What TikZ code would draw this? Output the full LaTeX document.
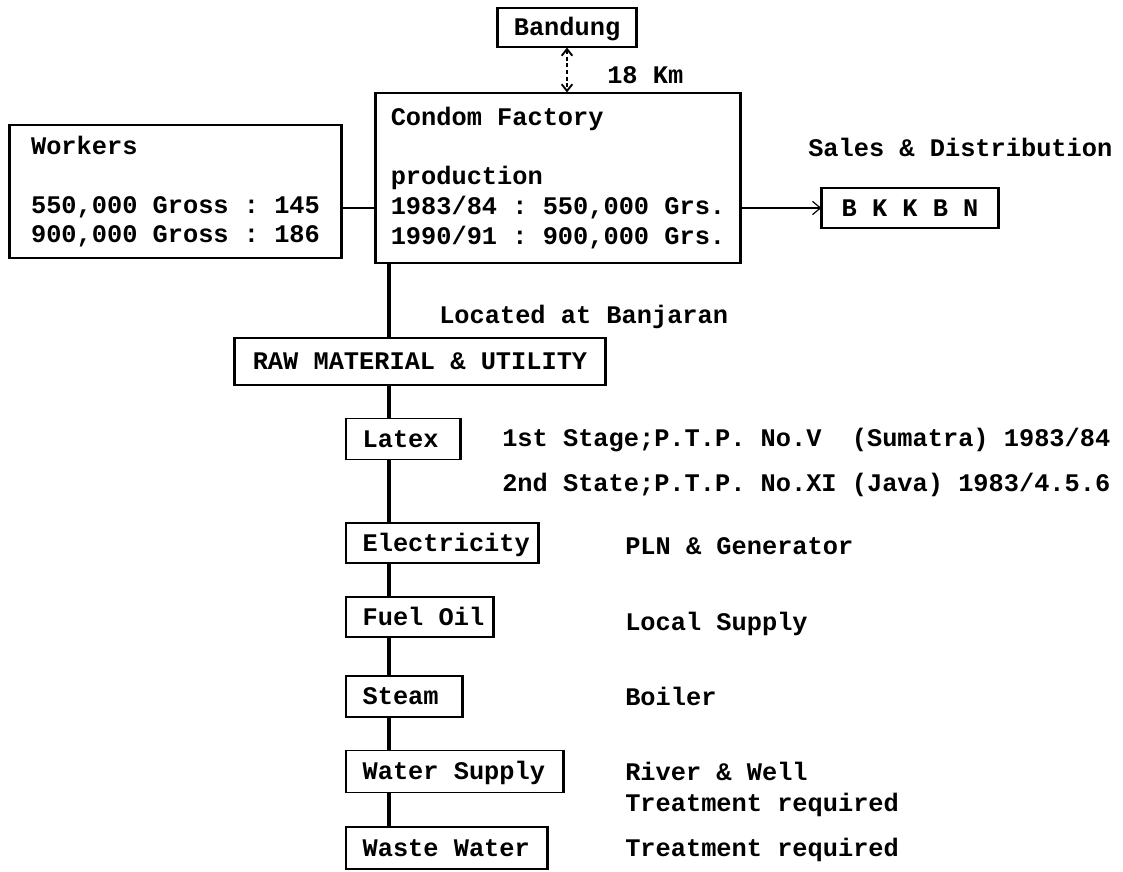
\documentclass[tikz,border=0pt]{standalone}
\usepackage{fontspec}
\setmonofont{Liberation Mono}
\usetikzlibrary{arrows.meta,calc}
\newcommand{\lftbox}[2]{\makebox[#1][l]{#2}}
\begin{document}
\begin{tikzpicture}[x=0.75pt,y=-0.75pt,
  every node/.style={font=\ttfamily\bfseries\fontsize{19}{22.2}\selectfont},
  ubox/.style={draw, line width=0.9pt, inner xsep=12pt, inner ysep=2pt, text height=12.6pt, text depth=0pt},
  mbox/.style={draw, line width=0.9pt, align=left, inner sep=0pt},
  lbl/.style={anchor=west, inner sep=0pt, text height=12.6pt, text depth=0pt},
  trunk/.style={line width=2.3pt},
  thinline/.style={line width=0.9pt},
  boxside/.style={line width=2.2pt},
]
\fill[white] (0,0) rectangle (1123,871);
\useasboundingbox (0,0) rectangle (1123,871);

% boxes
\node[ubox, minimum width=102pt, minimum height=29.25pt] (bandung) at (567,27.5) {Bandung};
\node[mbox, minimum width=273pt, minimum height=127.5pt] (factory) at (558,178)
  {Condom Factory\\[22pt]production\\1983/84 : 550,000 Grs.\\1990/91 : 900,000 Grs.};
\node[mbox, minimum width=248.25pt, minimum height=99.75pt] (workers) at (175.5,191.5)
  {Workers\\[22pt]550,000 Gross : 145\\900,000 Gross : 186};
\node[ubox, minimum width=132pt, minimum height=30pt] (bkkbn) at (910,208) {B K K B N};
\node[ubox, minimum width=277.5pt, minimum height=35.25pt] (raw) at (420,361.5) {RAW MATERIAL \& UTILITY};
\node[ubox, anchor=west, minimum height=31pt] (latex) at (346,439) {\lftbox{60.75pt}{Latex}};
\node[ubox, anchor=west, minimum height=30pt] (elec) at (346,543) {\lftbox{119.25pt}{Electricity}};
\node[ubox, anchor=west, minimum height=30pt] (fuel) at (346,617) {\lftbox{85.5pt}{Fuel Oil}};
\node[ubox, anchor=west, minimum height=30.75pt] (steam) at (346,696.5) {\lftbox{62.25pt}{Steam}};
\node[ubox, anchor=west, minimum height=32pt] (water) at (346,771.5) {\lftbox{138pt}{Water Supply}};
\node[ubox, anchor=west, minimum height=31.5pt] (waste) at (346,848) {\lftbox{126pt}{Waste Water}};

% heavier vertical sides of the boxes
\foreach \n in {bandung,factory,workers,bkkbn,raw,latex,elec,fuel,steam,water,waste}
  \draw[boxside] (\n.north west) -- (\n.south west) (\n.north east) -- (\n.south east);

% labels
\node[lbl] (km) at (607,75) {18 Km};
\node[lbl] (sales) at (808,148) {Sales \& Distribution};
\node[lbl] (located) at (439,315) {Located at Banjaran};
\node[lbl] (stage1) at (502,438) {1st Stage;P.T.P. No.V\ \ (Sumatra) 1983/84};
\node[lbl] (stage2) at (502,483) {2nd State;P.T.P. No.XI (Java) 1983/4.5.6};
\node[lbl] (pln) at (625,546) {PLN \& Generator};
\node[lbl] (local) at (625,622) {Local Supply};
\node[lbl] (boiler) at (625,697) {Boiler};
\node[lbl] (river) at (625,772) {River \& Well};
\node[lbl] (treat1) at (625,803) {Treatment required};
\node[lbl] (treat2) at (625,848) {Treatment required};

% connectors
\coordinate (tx) at (389,0);
\coordinate (wy) at (0,208);
\draw[trunk] (tx |- factory.south) -- (tx |- raw.north);
\draw[trunk] (tx |- raw.south) -- (tx |- latex.north);
\draw[trunk] (tx |- latex.south) -- (tx |- elec.north);
\draw[trunk] (tx |- elec.south) -- (tx |- fuel.north);
\draw[trunk] (tx |- fuel.south) -- (tx |- steam.north);
\draw[trunk] (tx |- steam.south) -- (tx |- water.north);
\draw[trunk] (tx |- water.south) -- (tx |- waste.north);
\draw[thinline] (workers.east |- wy) -- (factory.west |- wy);
\draw[thinline, -{Straight Barb[length=6pt,width=10pt]}] (factory.east |- bkkbn.west) -- (bkkbn.west);
\draw[line width=1.4pt, dash pattern=on 3pt off 2pt,
      {Straight Barb[length=5pt,width=8pt]}-{Straight Barb[length=5pt,width=8pt]}]
      (bandung.south) -- (bandung.south |- factory.north);
\end{tikzpicture}
\end{document}
